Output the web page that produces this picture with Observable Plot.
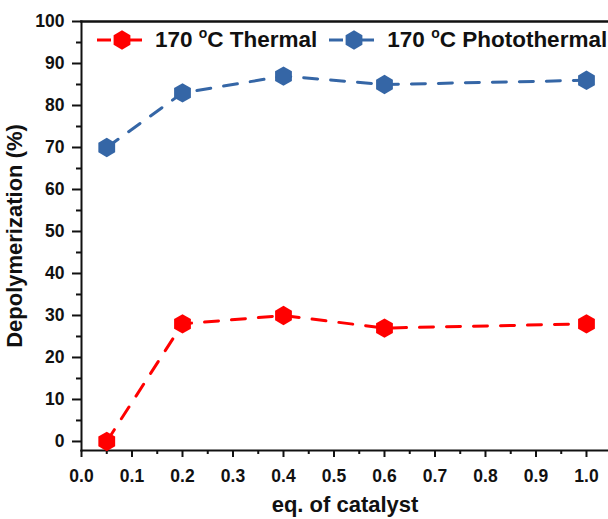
<!DOCTYPE html>
<html><head><meta charset="utf-8">
<script src="https://cdn.jsdelivr.net/npm/d3@7"></script>
<script src="https://cdn.jsdelivr.net/npm/@observablehq/plot@0.6"></script>
<style>
html,body{margin:0;padding:0;background:#fff;}
#wrap{position:relative;width:608px;height:519px;font-family:"Liberation Sans",Arial,sans-serif;}
#legend{position:absolute;top:30px;left:97px;height:20px;display:flex;align-items:center;font-weight:bold;font-size:22px;color:#111;white-space:nowrap;}
#legend .item{display:flex;align-items:center;}
#legend svg{display:block;}
#legend sup{font-size:0.62em;line-height:0;vertical-align:0.62em;}
</style></head><body><div id="wrap"></div>
<script>
const catalystEq = [0.05, 0.2, 0.4, 0.6, 1.0];
const thermal = [0, 28, 30, 27, 28];
const photothermal = [70, 83, 87, 85, 86];
const seriesNames = ["170 °C Thermal", "170 °C Photothermal"];
const seriesColors = ["#ff0000", "#3566a6"];
const xTicks = [0, 0.1, 0.2, 0.3, 0.4, 0.5, 0.6, 0.7, 0.8, 0.9, 1.0];
const xMinorTicks = [0.05, 0.15, 0.25, 0.35, 0.45, 0.55, 0.65, 0.75, 0.85, 0.95];
const yTicks = [0, 10, 20, 30, 40, 50, 60, 70, 80, 90, 100];
const yMinorTicks = [5, 15, 25, 35, 45, 55, 65, 75, 85, 95];
const xTitle = "eq. of catalyst";
const yTitle = "Depolymerization (%)";

const seriesValues = [thermal, photothermal];
const data = seriesNames.flatMap((s, k) => catalystEq.map((x, i) => ({x, y: seriesValues[k][i], s})));

const font = '"Liberation Sans", Arial, sans-serif';
const plot = Plot.plot({
  width: 608, height: 519,
  marginLeft: 81, marginRight: 0, marginTop: 21, marginBottom: 69,
  x: {domain: [0, 1.0436]},
  y: {domain: [-2.15, 100]},
  color: {domain: seriesNames, range: seriesColors},
  style: {fontFamily: font, fontSize: "17px", fontWeight: "bold", color: "#111", background: "white", overflow: "visible"},
  marks: [
    Plot.frame({anchor: "left", strokeWidth: 2, stroke: "#111"}),
    Plot.frame({anchor: "bottom", strokeWidth: 2, stroke: "#111"}),
    Plot.frame({anchor: "top", strokeWidth: 2.5, stroke: "#111"}),
    Plot.axisX({ticks: xTicks, tickSize: 7, tickPadding: 12, tickFormat: d3.format(".1f"), strokeWidth: 2, label: null, fontSize: 17.5}),
    Plot.axisX({ticks: xMinorTicks, tickSize: 4, tickFormat: () => "", strokeWidth: 2, label: null}),
    Plot.axisY({ticks: yTicks, tickSize: 9, tickPadding: 8, strokeWidth: 2, label: null, fontSize: 17.5}),
    Plot.axisY({ticks: yMinorTicks, tickSize: 5, tickFormat: () => "", strokeWidth: 2, label: null}),
    Plot.line(data, {x: "x", y: "y", z: "s", stroke: "s", strokeWidth: 3, strokeDasharray: "14,13"}),
    Plot.dot(data, {x: "x", y: "y", fill: "s", symbol: "hexagon", r: 8.4}),
    Plot.text([xTitle], {text: d => d, frameAnchor: "bottom", lineAnchor: "middle", textAnchor: "middle", dy: 54, fontSize: 22, fontWeight: "bold"}),
    Plot.text([yTitle], {text: d => d, frameAnchor: "left", lineAnchor: "middle", textAnchor: "middle", dx: -67, rotate: -90, fontSize: 22, fontWeight: "bold"})
  ]
});
const wrap = document.getElementById("wrap");
wrap.appendChild(plot);

// legend
const legend = document.createElement("div");
legend.id = "legend";
const rx = 8.4, ry = rx * 2 / Math.sqrt(3), hy = ry / 2;
seriesNames.forEach((name, k) => {
  const item = document.createElement("div");
  item.className = "item";
  if (k > 0) item.style.marginLeft = "12px";
  const cx = 25, cy = 10;
  const pts = [[0, ry], [rx, hy], [rx, -hy], [0, -ry], [-rx, -hy], [-rx, hy]].map(([a, b]) => `${cx + a},${cy + b}`).join(" ");
  item.innerHTML = `<svg width="45" height="20" viewBox="0 0 45 20">
    <line x1="0" y1="10" x2="14" y2="10" stroke="${seriesColors[k]}" stroke-width="3"/>
    <line x1="31" y1="10" x2="45" y2="10" stroke="${seriesColors[k]}" stroke-width="3"/>
    <polygon points="${pts}" fill="${seriesColors[k]}"/></svg>`;
  const label = document.createElement("span");
  label.style.marginLeft = "13px";
  label.style.fontSize = "22.5px";
  const parts = name.split("°");
  label.innerHTML = `${parts[0]}<sup>o</sup>${parts[1]}`;
  item.appendChild(label);
  legend.appendChild(item);
});
wrap.appendChild(legend);
</script></body></html>
